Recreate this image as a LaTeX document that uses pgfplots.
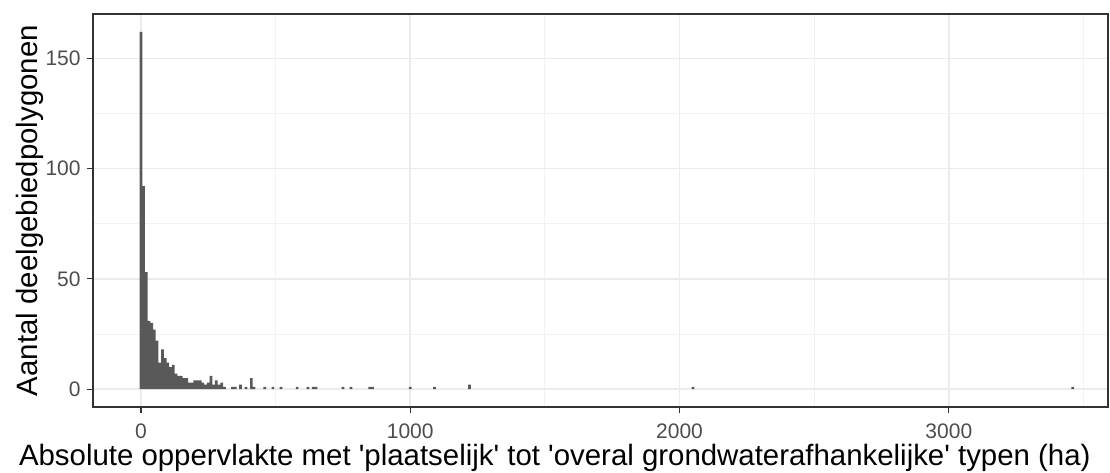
\documentclass[border=0pt]{standalone}
\usepackage{pgfplots}
\pgfplotsset{compat=1.18}
\usepackage{fontspec}
\setmainfont{Liberation Sans}
\definecolor{barfill}{HTML}{595959}
\definecolor{gridmaj}{HTML}{EBEBEB}
\definecolor{gridmin}{HTML}{F2F2F2}
\definecolor{tickcol}{HTML}{4D4D4D}
\definecolor{bordercol}{HTML}{333333}
\begin{document}
\begin{tikzpicture}
\begin{axis}[
  scale only axis,
  width=507.5pt, height=196.5pt,
  xmin=-178, xmax=3591,
  ymin=-8.1, ymax=170.1,
  xtick={0,1000,2000,3000},
  ytick={0,50,100,150},
  minor xtick={500,1500,2500,3500},
  minor ytick={25,75,125},
  grid=both,
  major grid style={gridmaj, line width=0.8pt},
  minor grid style={gridmin, line width=0.4pt},
  axis line style={bordercol, line width=0.6pt},
  tick style={bordercol, line width=0.6pt},
  major tick length=3pt,
  minor tick length=0pt,
  tick align=outside,
  xtick pos=bottom, ytick pos=left,
  /pgf/number format/assume math mode=true,
  /pgf/number format/1000 sep={},
  tick label style={font=\fontsize{10.5}{12}\selectfont, text=tickcol},
  xticklabel style={inner sep=0pt, yshift=-5pt},
  yticklabel style={inner sep=0pt, xshift=-3pt},
  label style={font=\fontsize{14.7}{17}\selectfont, inner sep=0pt},
  xlabel={Absolute oppervlakte met \textquotesingle plaatselijk\textquotesingle\ tot \textquotesingle overal grondwaterafhankelijke\textquotesingle\ typen (ha)},
  ylabel={Aantal deelgebiedpolygonen},
  xlabel style={at={(axis description cs:0.455,0)}, anchor=north, yshift=-18.5pt},
  ylabel style={at={(axis description cs:0,0.5)}, anchor=south, yshift=24.5pt},
]
\addplot[ybar, bar width=10, bar shift=0pt, fill=barfill, draw=none] coordinates {
(0,162) (10,92) (20,53) (30,31) (40,30) (50,27) (60,22) (70,12) (80,18) (90,14)
(100,12) (110,10) (120,11) (130,7) (140,6) (150,6) (160,5) (170,5) (180,3) (190,3)
(200,4) (210,4) (220,4) (230,3) (240,2) (250,3) (260,6) (270,2) (280,4) (290,2)
(300,3) (310,1)
(340,1) (350,1) (370,2) (390,1) (410,5) (420,1) (460,1) (490,1) (520,1)
(580,1) (620,1) (640,1) (650,1) (750,1) (780,1) (850,1) (860,1)
(1000,1) (1090,1) (1220,2) (2050,1) (3460,1)
};
\end{axis}
\pgfresetboundingbox
\path (current axis.south west) ++(-46.5pt,-33pt) coordinate (bbA);
\path (current axis.north east) ++(1pt,7pt) coordinate (bbB);
\useasboundingbox (bbA) rectangle (bbB);
\end{tikzpicture}
\end{document}
